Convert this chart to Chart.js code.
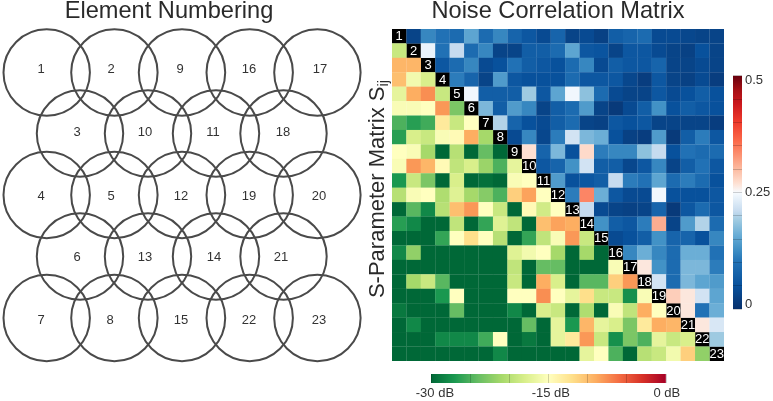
<!DOCTYPE html>
<html><head><meta charset="utf-8">
<script src="https://cdn.jsdelivr.net/npm/chart.js@4"></script>
<style>
html,body{margin:0;padding:0;background:#fff;width:773px;height:401px;overflow:hidden}
canvas{position:absolute;display:block}
</style></head><body>
<canvas id="elements" style="left:0;top:0" width="370" height="401"></canvas>
<canvas id="matrix" style="left:360px;top:0" width="413" height="401"></canvas>
<canvas id="cbarS" style="left:723px;top:65px" width="50" height="255"></canvas>
<canvas id="cbarDb" style="left:405px;top:368px" width="290" height="33"></canvas>
<script>
const FONT = '"Liberation Sans", Arial, sans-serif';
const INK = '#2a2a2a';

// Element layout (element number = index + 1)
const elementX = [46.7,114.4,80,46.7,114.4,80,46.7,114.4,182,148,216,182,148,216,182,249.7,317.4,283.5,249.7,317.4,283.5,249.7,317.4];
const elementY = [72.5,72.5,133.5,195,195,256.5,318,318,72.5,133.5,133.5,195,256.5,256.5,318,72.5,72.5,133.5,195,195,256.5,318,318];
const elementLabelX = [41,111,77,41,111,77,41,110,180,145,213,181,145,214,181,249,320,283,249,319,281,249,319];
const elementLabelY = [69,69,132,196,196,257,320,320,69,132,132,196,257,257,320,69,69,132,196,196,257,320,320];

// Lower triangle, dB: row r holds columns 1..r-1
const lowerDb = [
 [],
 [-19],
 [-9.5,-9.5],
 [-10,-16,-18],
 [-17,-9,-7.5,-19],
 [-15.5,-15.5,-15,-8,-23],
 [-25,-26.5,-25.5,-13,-19,-15],
 [-26.5,-18,-19,-15.5,-14.5,-9,-21],
 [-15,-15.5,-21,-30,-20,-30,-24,-30],
 [-15.5,-8,-9.5,-14.5,-19.5,-18,-21.5,-25,-17],
 [-27,-19,-23,-30,-18,-30,-29.5,-30,-15.5,-15],
 [-20,-15.5,-15,-20.5,-17.5,-21,-22.5,-25,-11,-8.5,-15],
 [-30,-24.5,-28,-20,-10,-8,-15,-19,-30,-14.5,-18.5,-15],
 [-26.5,-28,-30,-30,-19.5,-30,-26,-17.5,-19.5,-30,-10,-8.5,-9],
 [-30,-30,-30,-26,-15,-12,-15,-20,-30,-26,-19.5,-15.5,-8,-19],
 [-28,-22,-30,-30,-30,-30,-30,-30,-17.5,-16,-15,-21,-30,-21,-30],
 [-30,-30,-30,-30,-30,-30,-30,-30,-19.5,-30,-24,-24,-30,-30,-30,-15.5],
 [-30,-21,-19,-24.5,-30,-30,-30,-30,-19,-30,-9,-18,-30,-24.5,-24.5,-11,-8],
 [-30,-30,-30,-27,-15,-30,-30,-30,-15,-15,-7.5,-15,-17,-12,-19,-19,-27.5,-15.5],
 [-29,-30,-30,-30,-24,-30,-30,-30,-28,-30,-18,-19,-30,-20.5,-30,-15.5,-19.5,-9,-15],
 [-30,-28,-30,-30,-30,-30,-30,-30,-30,-24,-30,-17,-27,-9.5,-17,-18,-23,-13,-9,-9.5],
 [-30,-30,-30,-28,-28,-28,-25.5,-15,-30,-29,-30,-17,-13,-8,-19,-27.5,-23,-25,-17,-19,-18],
 [-30,-30,-30,-30,-30,-30,-30,-28,-30,-30,-30,-30,-30,-17,-15,-25,-30,-20,-19,-16,-11,-22]
];

// Upper triangle, linear: row r holds columns r+1..23
const upperLin = [
 [.03,.12,.10,.09,.15,.09,.12,.08,.06,.04,.08,.03,.04,.025,.07,.08,.09,.04,.04,.035,.03,.03],
 [.24,.10,.21,.09,.12,.03,.03,.07,.07,.09,.15,.06,.055,.03,.06,.06,.04,.03,.025,.05,.03],
 [.06,.09,.12,.04,.05,.10,.07,.06,.05,.09,.12,.04,.07,.06,.06,.08,.03,.03,.04,.03],
 [.11,.08,.03,.14,.06,.05,.05,.05,.09,.06,.06,.06,.035,.02,.06,.03,.025,.04,.02],
 [.245,.07,.07,.07,.19,.06,.15,.245,.18,.09,.04,.03,.03,.06,.04,.05,.07,.05],
 [.17,.07,.14,.12,.03,.07,.09,.14,.03,.015,.04,.07,.13,.05,.07,.06,.05],
 [.20,.08,.05,.04,.07,.09,.03,.025,.06,.05,.06,.03,.03,.03,.03,.02],
 [.04,.12,.035,.11,.22,.17,.16,.05,.025,.02,.14,.015,.07,.11,.06],
 [.27,.08,.17,.05,.275,.11,.12,.12,.18,.21,.05,.10,.09,.09],
 [.06,.08,.13,.22,.07,.07,.035,.06,.12,.03,.07,.10,.06],
 [.14,.05,.06,.07,.21,.11,.10,.15,.09,.11,.09,.05],
 [.11,.34,.16,.06,.04,.04,.245,.05,.05,.05,.06],
 [.21,.04,.03,.025,.03,.08,.015,.06,.09,.06],
 [.13,.07,.06,.11,.31,.03,.14,.20,.09],
 [.04,.05,.07,.13,.08,.08,.05,.12],
 [.12,.16,.12,.09,.16,.16,.10],
 [.265,.13,.09,.17,.17,.11],
 [.22,.09,.17,.15,.14],
 [.285,.265,.22,.15],
 [.265,.10,.16],
 [.265,.225],
 [.19],
 []
];

const matrixNumbers = ['1','2','3','4','5','6','7','8','9','10','11','12','13','14','15','16','17','18','19','20','21','22','23'];
const sTickValues = [0.01,0.25,0.49];
const sTickLabels = ['0','0.25','0.5'];
const dbTickValues = [-29.5,-14.7,0.1];
const dbTickLabels = ['-30 dB','-15 dB','0 dB'];

// Colour maps
const dbStopPos = [-30,-27,-24,-21,-18,-15,-12,-9,-6,-3,0];
const dbStopCol = ['#006837','#1a9850','#66bd63','#a6d96a','#d9ef8b','#ffffbf','#fee08b','#fdae61','#f46d43','#d73027','#a50026'];
const sStopPos = [0,.05,.1,.13,.16,.19,.21,.23,.25,.27,.3,.33,.36,.4,.44,.47,.5];
const sStopCol = ['#08306b','#08519c','#2171b5','#4292c6','#6baed6','#9ecae1','#c6dbef','#deebf7','#f7fbff','#fee0d2','#fcbba1','#fc9272','#fb6a4a','#ef3b2c','#cb181d','#a50f15','#67000d'];

function hex(c){return [1,3,5].map(i=>parseInt(c.substr(i,2),16));}
function colorAt(pos,cols,v){
  if(v<=pos[0]) return cols[0];
  for(let i=1;i<pos.length;i++){
    if(v<=pos[i]){
      const t=(v-pos[i-1])/(pos[i]-pos[i-1]),a=hex(cols[i-1]),b=hex(cols[i]);
      return 'rgb('+a.map((x,k)=>Math.round(x+(b[k]-x)*t)).join(',')+')';
    }
  }
  return cols[cols.length-1];
}
function gradient(ctx,x0,y0,x1,y1,pos,cols){
  const g=ctx.createLinearGradient(x0,y0,x1,y1),a=pos[0],b=pos[pos.length-1];
  pos.forEach((p,i)=>g.addColorStop((p-a)/(b-a),cols[i]));
  return g;
}

Chart.defaults.animation=false;
Chart.defaults.responsive=false;
Chart.defaults.font.family=FONT;
Chart.defaults.color=INK;

// ---------- Element numbering ----------
const elementTextPlugin={id:'elementText',afterDatasetsDraw(c){
  const {ctx,scales:{x,y}}=c;
  ctx.save();ctx.font='13px '+FONT;ctx.fillStyle='#333';ctx.textAlign='center';ctx.textBaseline='middle';
  matrixNumbers.forEach((t,i)=>ctx.fillText(t,x.getPixelForValue(elementLabelX[i]),y.getPixelForValue(elementLabelY[i])));
  ctx.restore();
}};
new Chart(document.getElementById('elements'),{
  type:'scatter',
  data:{datasets:[{data:elementX.map((v,i)=>({x:v,y:elementY[i]})),pointRadius:43.2,pointBorderWidth:2,
    pointBorderColor:'#4a4a4a',pointBackgroundColor:'transparent',clip:false}]},
  options:{
    layout:{autoPadding:false,padding:{left:0,right:32,top:0,bottom:0}},
    plugins:{legend:{display:false},tooltip:{enabled:false},
      title:{display:true,text:'Element Numbering',color:INK,font:{size:23.6,weight:'normal',family:FONT,lineHeight:1},padding:{top:-0.8,bottom:6.2}}},
    scales:{x:{display:false,min:0,max:338},y:{display:false,min:29,max:401,reverse:true}}
  },
  plugins:[elementTextPlugin]
});

// ---------- Noise correlation matrix ----------
const cells=[],cellColors=[],diag=[];
lowerDb.forEach((row,r)=>row.forEach((v,c)=>{cells.push({x:c+1,y:r+1});cellColors.push(colorAt(dbStopPos,dbStopCol,v));}));
upperLin.forEach((row,r)=>row.forEach((v,c)=>{cells.push({x:r+c+2,y:r+1});cellColors.push(colorAt(sStopPos,sStopCol,v));}));
matrixNumbers.forEach((t,i)=>diag.push({x:i+1,y:i+1}));

const matrixTextPlugin={id:'matrixText',afterDatasetsDraw(c){
  const {ctx,scales:{x,y}}=c;
  ctx.save();ctx.font='13px '+FONT;ctx.fillStyle='#fff';ctx.textAlign='center';ctx.textBaseline='middle';
  matrixNumbers.forEach((t,i)=>ctx.fillText(t,x.getPixelForValue(i+1),y.getPixelForValue(i+1)+0.5));
  // axis title with subscript
  ctx.fillStyle=INK;
  ctx.translate(24,189);ctx.rotate(-Math.PI/2);
  ctx.textAlign='left';ctx.textBaseline='alphabetic';
  const main='S-Parameter Matrix S',sub='ij';
  ctx.font='22px '+FONT;
  const w=ctx.measureText(main).width;
  ctx.font='15px '+FONT;
  const sw=ctx.measureText(sub).width;
  const start=-(w+sw)/2;
  ctx.font='22px '+FONT;ctx.fillText(main,start,0);
  ctx.font='15px '+FONT;ctx.fillText(sub,start+w,4);
  ctx.restore();
}};
new Chart(document.getElementById('matrix'),{
  type:'scatter',
  data:{datasets:[
    {data:cells,pointStyle:'rect',pointRadius:10.35,pointBorderWidth:0,pointBackgroundColor:cellColors},
    {data:diag,pointStyle:'rect',pointRadius:10.35,pointBorderWidth:0,pointBackgroundColor:'#000'}
  ]},
  options:{
    layout:{autoPadding:false,padding:{left:32,right:49,bottom:40,top:0}},
    plugins:{legend:{display:false},tooltip:{enabled:false},
      title:{display:true,text:'Noise Correlation Matrix',color:INK,font:{size:23.6,weight:'normal',family:FONT,lineHeight:1},padding:{top:-0.8,bottom:6.2}}},
    scales:{x:{display:false,min:0.5,max:23.5},y:{display:false,min:0.5,max:23.5,reverse:true}}
  },
  plugins:[matrixTextPlugin]
});

// ---------- Colour bars ----------
new Chart(document.getElementById('cbarS'),{
  type:'bar',
  data:{labels:['S'],datasets:[{data:[[0,0.5]],barPercentage:1,categoryPercentage:1,yAxisID:'y',
    backgroundColor(ctx){const a=ctx.chart.chartArea;return a?gradient(ctx.chart.ctx,0,a.bottom,0,a.top,sStopPos,sStopCol):'#888';}}]},
  options:{
    layout:{padding:{top:10,bottom:10,left:10,right:0}},
    plugins:{legend:{display:false},tooltip:{enabled:false}},
    scales:{
      x:{display:false},
      y:{min:0,max:0.5,position:'right',border:{display:false},grid:{z:1,color:'rgba(0,0,0,.18)',drawTicks:false},
         ticks:{display:false,stepSize:0.05},afterFit(s){s.width=0;}},
      s:{min:0,max:0.5,position:'right',border:{display:false},grid:{display:false,drawTicks:false},
         afterBuildTicks(s){s.ticks=sTickValues.map(v=>({value:v}));},
         ticks:{padding:3,font:{size:13},color:'#333',callback(v,i){return sTickLabels[i];}},
         afterFit(s){s.width=31;}}
    }
  }
});
new Chart(document.getElementById('cbarDb'),{
  type:'bar',
  data:{labels:['dB'],datasets:[{data:[[-30,0]],barPercentage:1,categoryPercentage:1,xAxisID:'x',
    backgroundColor(ctx){const a=ctx.chart.chartArea;return a?gradient(ctx.chart.ctx,a.left,0,a.right,0,dbStopPos,dbStopCol):'#888';}}]},
  options:{
    indexAxis:'y',
    layout:{padding:{left:26,right:29,top:6,bottom:0}},
    plugins:{legend:{display:false},tooltip:{enabled:false}},
    scales:{
      y:{display:false},
      x:{min:-30,max:0,position:'bottom',border:{display:false},grid:{z:1,color:'rgba(0,0,0,.18)',drawTicks:false},
         ticks:{display:false,stepSize:5},afterFit(s){s.height=0;}},
      d:{min:-30,max:0,position:'bottom',border:{display:false},grid:{display:false,drawTicks:false},
         afterBuildTicks(s){s.ticks=dbTickValues.map(v=>({value:v}));},
         ticks:{padding:3,maxRotation:0,autoSkip:false,font:{size:13},color:'#333',callback(v,i){return dbTickLabels[i];}},
         afterFit(s){s.height=18;}}
    }
  }
});
</script>
</body></html>
